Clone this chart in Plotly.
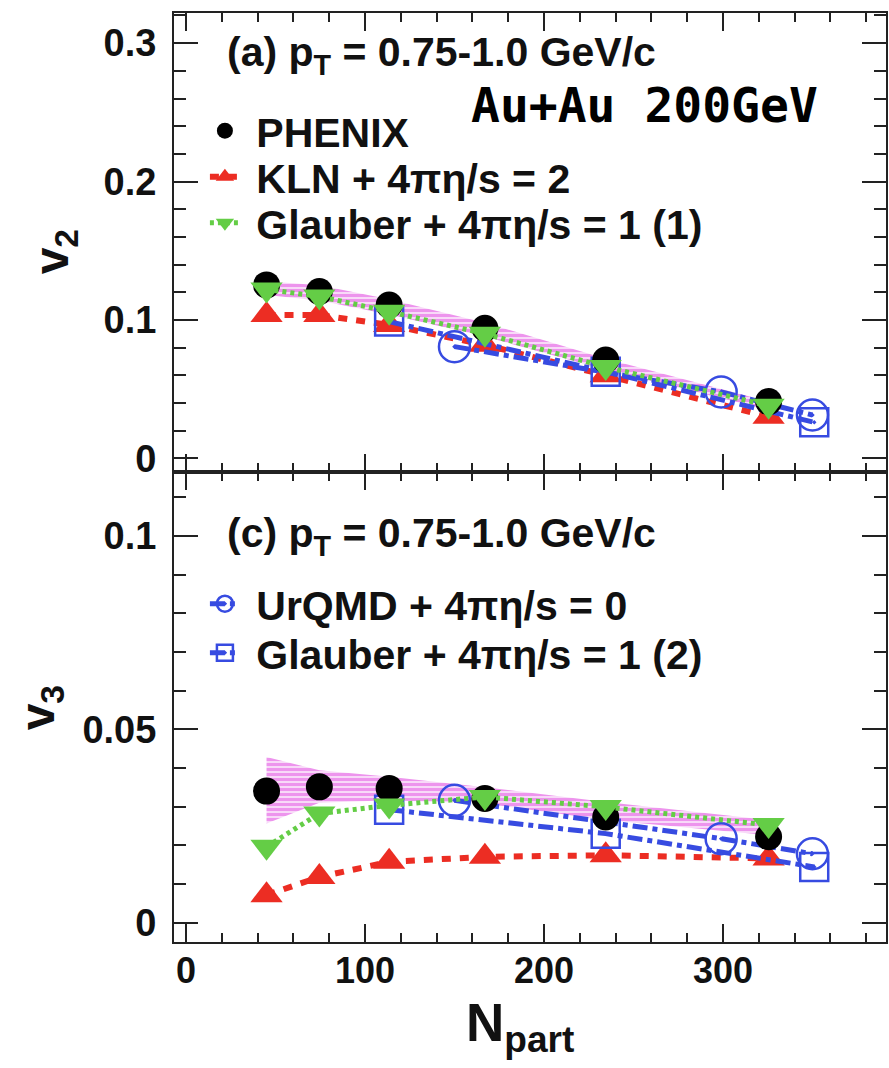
import plotly.graph_objects as go

# ---------------- data ----------------
npart = [45, 74.5, 113.5, 167, 234.5, 325.5]

phenix_v2 = [0.1253, 0.1205, 0.1108, 0.094, 0.071, 0.041]
kln_v2 = [0.1036, 0.1036, 0.0964, 0.082, 0.060, 0.030]
glauber1_v2 = [0.122, 0.117, 0.106, 0.090, 0.066, 0.038]
band_v2_hi = [0.128, 0.125, 0.115, 0.098, 0.072, 0.041]
band_v2_lo = [0.118, 0.114, 0.104, 0.088, 0.064, 0.035]

urqmd_npart = [150, 299, 350]
urqmd_v2 = [0.0807, 0.048, 0.0313]
glauber2_npart = [113.5, 234.5, 351]
glauber2_v2 = [0.0988, 0.0626, 0.026]

phenix_v3 = [0.034, 0.0351, 0.0347, 0.0321, 0.0273, 0.0222]
kln_v3 = [0.0071, 0.0118, 0.0157, 0.0170, 0.0174, 0.0166]
glauber1_v3 = [0.0196, 0.0282, 0.0303, 0.0325, 0.0299, 0.0252]
band_v3_hi = [0.0428, 0.0394, 0.0377, 0.035, 0.0312, 0.0265]
band_v3_lo = [0.0256, 0.031, 0.0316, 0.0308, 0.0265, 0.0226]
urqmd_v3 = [0.0316, 0.0217, 0.0178]
glauber2_v3 = [0.0292, 0.023, 0.0144]

names = {
    "phenix": "PHENIX",
    "kln": "KLN + 4πη/s = 2",
    "gl1": "Glauber + 4πη/s = 1 (1)",
    "urqmd": "UrQMD + 4πη/s = 0",
    "gl2": "Glauber + 4πη/s = 1 (2)",
}

# ---------------- style ----------------
W, H = 889, 1068
ML, MR, MT, MB = 174, 1, 13, 126
PW, PH = W - ML - MR, H - MT - MB
SPLIT = 0.5059

RED = "rgb(236,45,35)"
GREEN = "rgb(100,205,70)"
BLUE = "rgb(55,75,225)"
MAG = "rgb(225,80,225)"
BLACK = "black"
AXC = "#222"
FONT = "Liberation Sans"
NB = "\u00a0"


def px(x):
    return (x - ML) / PW


def py(y):
    return (H - MB - y) / PH


fig = go.Figure()


def add_panel(xa, ya, phen, kln, gl1, bhi, blo, urq, gl2, top):
    fig.add_trace(go.Scatter(
        x=npart + npart[::-1], y=bhi + blo[::-1], xaxis=xa, yaxis=ya,
        mode="lines", line=dict(width=0), fill="toself",
        fillcolor="rgba(240,170,240,0.45)",
        fillpattern=dict(shape="-", fgcolor=MAG, size=5, solidity=0.6),
        showlegend=False, hoverinfo="skip"))
    fig.add_trace(go.Scatter(
        x=npart, y=kln, xaxis=xa, yaxis=ya, mode="lines+markers",
        name=NB + names["kln"],
        line=dict(color=RED, width=6, dash="9px,9px"),
        marker=dict(symbol="triangle-up", size=28, color=RED),
        showlegend=top, legend="legend2"))
    fig.add_trace(go.Scatter(
        x=glauber2_npart, y=gl2, xaxis=xa, yaxis=ya, mode="lines+markers",
        name=NB + names["gl2"],
        line=dict(color=BLUE, width=5, dash="dashdot"),
        marker=dict(symbol="square-open-dot", size=28, color=BLUE,
                    line=dict(width=2.5, color=BLUE)),
        showlegend=not top, legend="legend5"))
    fig.add_trace(go.Scatter(
        x=urqmd_npart, y=urq, xaxis=xa, yaxis=ya, mode="lines+markers",
        name=NB + names["urqmd"],
        line=dict(color=BLUE, width=5, dash="dashdot"),
        marker=dict(symbol="circle-open-dot", size=31, color=BLUE,
                    line=dict(width=2.5, color=BLUE)),
        showlegend=not top, legend="legend4"))
    fig.add_trace(go.Scatter(
        x=npart, y=phen, xaxis=xa, yaxis=ya, mode="markers",
        name=NB + names["phenix"],
        marker=dict(symbol="circle", size=27, color=BLACK),
        showlegend=top, legend="legend"))
    fig.add_trace(go.Scatter(
        x=npart, y=gl1, xaxis=xa, yaxis=ya, mode="lines+markers",
        name=NB + names["gl1"],
        line=dict(color=GREEN, width=5, dash="4px,4px"),
        marker=dict(symbol="triangle-down", size=28, color=GREEN),
        showlegend=top, legend="legend3"))


add_panel("x2", "y2", phenix_v2, kln_v2, glauber1_v2, band_v2_hi, band_v2_lo,
          urqmd_v2, glauber2_v2, True)
add_panel("x", "y", phenix_v3, kln_v3, glauber1_v3, band_v3_hi, band_v3_lo,
          urqmd_v3, glauber2_v3, False)

common = dict(showline=True, linecolor=AXC, linewidth=2, mirror="ticks",
              ticks="inside", tickcolor=AXC, tickwidth=2, showgrid=False,
              zeroline=False)

xr = [-6.7, 391.1]


def legend_at(ycenter):
    return dict(x=px(205), y=py(ycenter), xanchor="left", yanchor="middle",
                bgcolor="rgba(0,0,0,0)",
                font=dict(size=41, family=FONT, color="#111", weight="bold"))


fig.update_layout(
    width=W, height=H,
    margin=dict(l=ML, r=MR, t=MT, b=MB, pad=0),
    paper_bgcolor="white", plot_bgcolor="white",
    font=dict(family=FONT, color="#111"),
    xaxis=dict(**common, range=xr, anchor="y", tick0=0, dtick=100, ticklen=18,
               minor=dict(dtick=20, ticklen=9, ticks="inside", tickcolor=AXC,
                          tickwidth=2),
               tickfont=dict(size=36, family=FONT, weight="bold"),
               ticklabelstandoff=-4),
    xaxis2=dict(**common, range=xr, anchor="y2", matches="x", tick0=0,
                dtick=100, ticklen=18, showticklabels=False,
                minor=dict(dtick=20, ticklen=9, ticks="inside", tickcolor=AXC,
                           tickwidth=2)),
    yaxis=dict(**common, domain=[0, SPLIT], range=[-0.00502, 0.1165],
               anchor="x", tick0=0, dtick=0.05, ticklen=24,
               minor=dict(dtick=0.01, ticklen=12, ticks="inside",
                          tickcolor=AXC, tickwidth=2),
               tickfont=dict(size=38, family=FONT, weight="bold"),
               ticklabelstandoff=8),
    yaxis2=dict(**common, domain=[SPLIT, 1], range=[-0.0099, 0.3218],
                anchor="x2", tick0=0, dtick=0.1, ticklen=24,
                minor=dict(dtick=0.02, ticklen=12, ticks="inside",
                           tickcolor=AXC, tickwidth=2),
                tickfont=dict(size=38, family=FONT, weight="bold"),
                ticklabelstandoff=8),
    legend=legend_at(131),
    legend2=legend_at(177),
    legend3=legend_at(223),
    legend4=legend_at(604),
    legend5=legend_at(653),
)

ann = [
    dict(text="(a) p<sub>T</sub> = 0.75-1.0 GeV/c", x=px(225), y=py(55),
         xanchor="left", yanchor="middle",
         font=dict(size=41, weight="bold")),
    dict(text="(c) p<sub>T</sub> = 0.75-1.0 GeV/c", x=px(225), y=py(536),
         xanchor="left", yanchor="middle",
         font=dict(size=41, weight="bold")),
    dict(text="Au+Au 200GeV", x=px(470), y=py(105), xanchor="left",
         yanchor="middle",
         font=dict(size=48, family="DejaVu Sans Mono", weight="bold",
                   color="black")),
    dict(text="v<sub>2</sub>", x=px(55), y=py(252), xanchor="center",
         yanchor="middle", textangle=-90, font=dict(size=48, weight="bold")),
    dict(text="v<sub>3</sub>", x=px(41), y=py(708), xanchor="center",
         yanchor="middle", textangle=-90, font=dict(size=48, weight="bold")),
    dict(text="N<sub>part</sub>", x=px(521), y=py(1026), xanchor="center",
         yanchor="middle", font=dict(size=53, weight="bold")),
]
for a in ann:
    a.update(xref="paper", yref="paper", showarrow=False)
fig.update_layout(annotations=ann)

fig.write_html("out.html")
